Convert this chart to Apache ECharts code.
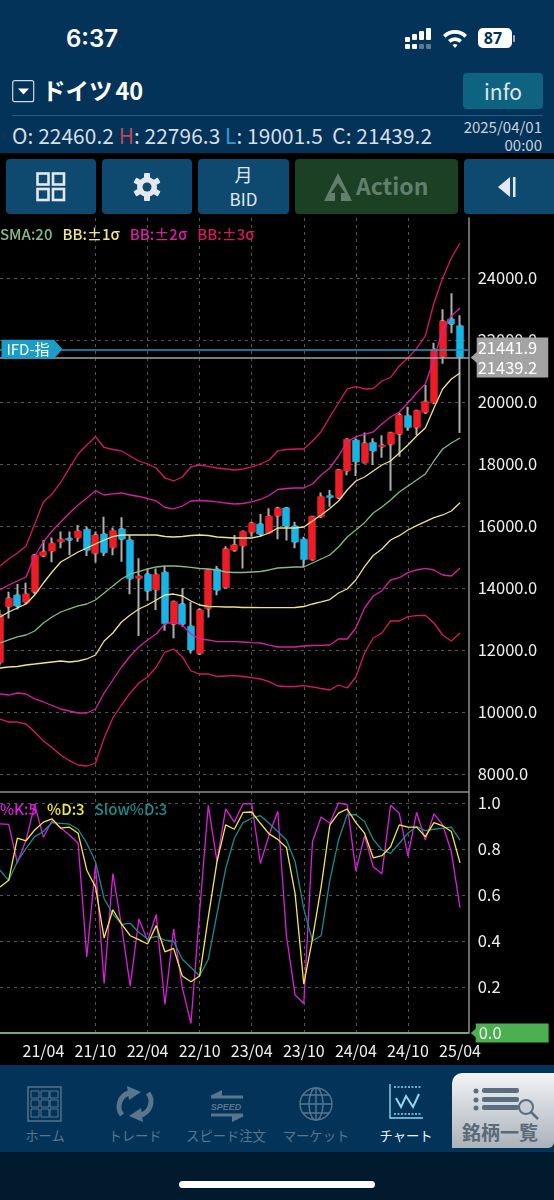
<!DOCTYPE html>
<html>
<head>
<meta charset="utf-8">
<script src="https://cdn.jsdelivr.net/npm/echarts@6/dist/echarts.min.js"></script>
<style>
  html, body { margin: 0; padding: 0; background: #000; }
  body { width: 554px; height: 1200px; overflow: hidden; position: relative;
    font-family: "Noto Sans CJK JP", "Noto Sans", sans-serif; color: #fff; }
  .abs { position: absolute; white-space: nowrap; line-height: 1; }
  .btn { position: absolute; top: 159px; height: 55px; background: #0e4a70; border-radius: 4px; }
  #chart { position: absolute; left: 0; top: 0; width: 554px; height: 1200px; }
  .nav { position: absolute; top: 1129px; font-size: 13.3px; line-height: 1; color: #58768c; transform: translateX(-50%); white-space: nowrap; }
</style>
</head>
<body>
<!-- header -->
<div class="abs" style="left:0;top:0;width:554px;height:153px;background:#04335a"></div>
<div class="abs" style="left:66px;top:24px;font:600 24px 'Inter','Noto Sans',sans-serif">6:37</div>
<svg class="abs" style="left:404px;top:26px" width="112" height="24">
  <g fill="#fff">
    <rect x="1" y="11" width="5" height="5" rx="1"/><rect x="1" y="18" width="5" height="5" rx="1"/>
    <rect x="8" y="8" width="5" height="6" rx="1"/><rect x="8" y="18" width="5" height="5" rx="1"/>
    <rect x="15" y="5" width="5" height="9" rx="1"/><rect x="22" y="2" width="5" height="12" rx="1"/>
    <rect x="15" y="18" width="5" height="5" rx="1" opacity=".35"/><rect x="22" y="18" width="5" height="5" rx="1" opacity=".35"/>
    <path d="M39 9 a17 17 0 0 1 24 0 l-2.5 2.8 a13 13 0 0 0 -19 0z"/>
    <path d="M44 14 a10 10 0 0 1 14 0 l-2.6 2.8 a6 6 0 0 0 -8.8 0z"/>
    <path d="M48.5 19 a4 4 0 0 1 5 0 l-2.5 3z"/>
    <rect x="74" y="2" width="34" height="20" rx="5"/>
    <rect x="109" y="9" width="2" height="7" rx="1" opacity=".6"/>
  </g>
  <text x="89" y="18" font-size="16" font-weight="700" text-anchor="middle" fill="#04335a" font-family="Noto Sans">87</text>
</svg>
<svg class="abs" style="left:12px;top:80px" width="23" height="23">
  <rect x="0.7" y="0.7" width="21" height="21" rx="2" fill="none" stroke="#cfd8e0" stroke-width="1.2"/>
  <path d="M6 8.5 H17 L11.5 14.5Z" fill="#fff"/>
</svg>
<div class="abs" style="left:42px;top:79px;font-size:23.5px;font-weight:700">ドイツ<span style="margin-left:3px">40</span></div>
<div class="abs" style="left:463px;top:73px;width:80px;height:36px;background:#0e6480;border-radius:4px;text-align:center;font-size:21px;line-height:36px;color:#dfe6ea">info</div>
<div class="abs" style="left:12px;top:115px;width:531px;height:1px;background:#2a5a80"></div>
<div class="abs" style="left:12px;top:125px;font-size:20.8px;color:#d6dfe6;letter-spacing:.1px">O: 22460.2 <span style="color:#c0474e">H</span>: 22796.3 <span style="color:#2a9fd6">L</span>: 19001.5&nbsp; C: 21439.2</div>
<div class="abs" style="right:12px;top:119px;font-size:15px;color:#c8d2da">2025/04/01</div>
<div class="abs" style="right:12px;top:137px;font-size:15px;color:#c8d2da">00:00</div>

<!-- toolbar -->
<div class="btn" style="left:6px;width:90px"></div>
<div class="btn" style="left:102px;width:90px"></div>
<div class="btn" style="left:198px;width:91px"></div>
<div class="btn" style="left:295px;width:163px;background:#1b4024"></div>
<div class="btn" style="left:464px;width:94px"></div>
<svg class="abs" style="left:36px;top:172px" width="30" height="30" fill="none" stroke="#e4e8ec" stroke-width="2.6">
  <rect x="1.5" y="1.5" width="11" height="11"/><rect x="17" y="1.5" width="11" height="11"/>
  <rect x="1.5" y="17" width="11" height="11"/><rect x="17" y="17" width="11" height="11"/>
</svg>
<svg class="abs" style="left:132px;top:172px" width="30" height="30">
  <g fill="#e4e8ec"><circle cx="15" cy="15" r="10"/>
    <rect x="12" y="1" width="6" height="6" rx="1"/><rect x="12" y="23" width="6" height="6" rx="1"/>
    <rect x="12" y="1" width="6" height="6" rx="1" transform="rotate(60 15 15)"/><rect x="12" y="23" width="6" height="6" rx="1" transform="rotate(60 15 15)"/>
    <rect x="12" y="1" width="6" height="6" rx="1" transform="rotate(120 15 15)"/><rect x="12" y="23" width="6" height="6" rx="1" transform="rotate(120 15 15)"/>
  </g><circle cx="15" cy="15" r="4.5" fill="#0e4a70"/>
</svg>
<div class="abs" style="left:198px;width:91px;top:165px;text-align:center;font-size:18px;color:#e4e8ec">月</div>
<div class="abs" style="left:198px;width:91px;top:190px;text-align:center;font-size:17px;color:#e4e8ec">BID</div>
<svg class="abs" style="left:324px;top:172px" width="30" height="30"><path d="M14 1 L28 29 H17 V21 H21 L14 11 L7 21 H11 V29 H0Z" fill="#617f6c"/></svg>
<div class="abs" style="left:356px;top:174px;font-size:23px;font-weight:700;color:#617f6c">Action</div>
<svg class="abs" style="left:497px;top:176px" width="22" height="24"><path d="M1 11 L13 1 V21Z" fill="#e4e8ec"/><rect x="16" y="1" width="2.5" height="20" fill="#e4e8ec"/></svg>

<!-- footer -->
<div class="abs" style="left:0;top:1065px;width:554px;height:87px;background:#04335a"></div>
<div class="abs" style="left:0;top:1152px;width:554px;height:48px;background:#021a2e"></div>
<div class="abs" style="left:179px;top:1181px;width:196px;height:7px;background:#fff;border-radius:4px"></div>
<svg class="abs" style="left:0;top:1075px" width="450" height="56" fill="none" stroke="#58768c" stroke-width="1.4">
  <rect x="28" y="12" width="33" height="34"/>
  <path d="M31 16h8v7h-8zM41 16h8v7h-8zM50 16h8v7h-8zM31 25h8v7h-8zM41 25h8v7h-8zM50 25h8v7h-8zM31 34h8v8h-8zM41 34h8v8h-8zM50 34h8v8h-8z" stroke-width="1"/>
  <path d="M122 40 a14 14 0 0 1 7 -22" stroke-width="5"/><path d="M127 11 L141 17 L129 25Z" fill="#58768c" stroke="none"/>
  <path d="M148 18 a14 14 0 0 1 -7 22" stroke-width="5"/><path d="M143 47 L129 41 L141 33Z" fill="#58768c" stroke="none"/>
  <path d="M211 22 H243 M211 40 H243" stroke-width="3"/><path d="M222 15 L210 21 H222Z M232 47 L244 41 H232Z" fill="#58768c" stroke="none"/>
  <text x="226" y="35" font-size="9" font-weight="700" font-style="italic" text-anchor="middle" fill="#58768c" stroke="none" font-family="Liberation Sans">SPEED</text>
  <circle cx="316" cy="29" r="16"/><ellipse cx="316" cy="29" rx="7" ry="16"/><path d="M300 29H332M316 13V45M303 20H329M303 38H329"/>
  <path d="M390 9 V43 H423" stroke="#8fd8ee"/><path d="M394 12 H421 M394 39 H421" stroke="#8fd8ee" stroke-dasharray="2 1.5"/>
  <path d="M396 23 L401 32 L406 21 L413 32 L419 19" stroke="#8fd8ee" stroke-width="2"/>
</svg>
<div class="nav" style="left:45px">ホーム</div>
<div class="nav" style="left:135px">トレード</div>
<div class="nav" style="left:226px">スピード注文</div>
<div class="nav" style="left:316px">マーケット</div>
<div class="nav" style="left:406px;color:#e8f4fa">チャート</div>
<div class="abs" style="left:452px;top:1073px;width:102px;height:75px;background:linear-gradient(#f2f4f6,#aab2ba);border-radius:10px 0 6px 0"></div>
<svg class="abs" style="left:470px;top:1087px" width="70" height="34" fill="#5a6e80">
  <circle cx="6" cy="4" r="2.5"/><circle cx="6" cy="13" r="2.5"/><circle cx="6" cy="21" r="2.5"/>
  <rect x="12" y="1" width="37" height="5" rx="2"/><rect x="12" y="10" width="37" height="5" rx="2"/><rect x="12" y="18" width="37" height="5" rx="2"/>
  <circle cx="56" cy="20" r="7" fill="#c8ced4" stroke="#5a6e80" stroke-width="2"/><path d="M61 25 L68 32" stroke="#5a6e80" stroke-width="2.5"/>
</svg>
<div class="abs" style="left:462px;top:1122px;font-size:19px;font-weight:700;color:#5a6a78">銘柄一覧</div>

<div id="chart"></div>

<script>
const months = [
  '20/11', '20/12', '21/01', '21/02', '21/03', '21/04', '21/05', '21/06', '21/07', '21/08', '21/09', '21/10',
  '21/11', '21/12', '22/01', '22/02', '22/03', '22/04', '22/05', '22/06', '22/07', '22/08', '22/09', '22/10',
  '22/11', '22/12', '23/01', '23/02', '23/03', '23/04', '23/05', '23/06', '23/07', '23/08', '23/09', '23/10',
  '23/11', '23/12', '24/01', '24/02', '24/03', '24/04', '24/05', '24/06', '24/07', '24/08', '24/09', '24/10',
  '24/11', '24/12', '25/01', '25/02', '25/03', '25/04', '',
];
const opens = [11600, 13400, 13770, 13540, 13880, 15040, 15190, 15490, 15600, 15620, 15890, 15120, 15740, 15300, 15900, 15550, 14310, 14440, 13940, 14510, 12840, 13480, 12770, 11890, 13340, 14610, 14020, 15220, 15360, 15800, 16060, 15780, 16330, 16580, 16000, 15570, 14920, 16300, 16980, 16920, 17780, 18770, 18050, 18690, 18560, 18640, 18970, 19560, 19180, 19670, 19980, 21460, 22670, 22460.2];
const closes = [13130, 13670, 13420, 13810, 15060, 15170, 15440, 15570, 15550, 15840, 15220, 15710, 15140, 15850, 15580, 14300, 14390, 13910, 14440, 12850, 13560, 12840, 12000, 13290, 14580, 13930, 15260, 15390, 15820, 16090, 15740, 16320, 16570, 16000, 15480, 14920, 16300, 16950, 16920, 17810, 18800, 18070, 18670, 18420, 18610, 19010, 19580, 19180, 19720, 20010, 21700, 22610, 22520, 21439.2];
const lows = [11500, 13020, 13310, 13480, 13800, 14990, 14830, 15280, 15060, 15490, 15030, 14820, 15030, 15060, 14850, 13800, 12450, 13590, 13290, 12620, 12380, 12750, 11890, 11840, 13050, 13770, 13980, 15170, 14630, 15650, 15650, 15760, 15570, 15530, 15280, 14670, 14880, 16260, 16620, 16870, 17640, 17610, 18020, 17970, 18200, 17140, 18230, 19070, 18930, 19610, 19930, 21230, 22220, 19001.5];
const highs = [13300, 13880, 14130, 14170, 15100, 15550, 15630, 15820, 15820, 16030, 15980, 15820, 16300, 15950, 16280, 15710, 14960, 14630, 14630, 14710, 13600, 13990, 13560, 13350, 14600, 14710, 15350, 15710, 15830, 16140, 16390, 16570, 16620, 16600, 16140, 15650, 16320, 17080, 17160, 17830, 18830, 18830, 19020, 18830, 18930, 19030, 19650, 19850, 19740, 20550, 21910, 22990, 23510, 22796.3];

const sma20 = [12226, 12323, 12420, 12484, 12613, 12871, 13065, 13226, 13323, 13420, 13484, 13613, 13839, 14065, 14291, 14452, 14532, 14613, 14678, 14710, 14710, 14694, 14662, 14629, 14613, 14581, 14516, 14500, 14500, 14516, 14532, 14581, 14645, 14662, 14678, 14678, 14807, 14936, 15065, 15323, 15645, 15871, 16107, 16420, 16613, 16839, 17097, 17291, 17484, 17678, 18097, 18484, 18678, 18839];
const bbUp1 = [13065, 13226, 13355, 13484, 13774, 14161, 14516, 14839, 15000, 15161, 15290, 15419, 15548, 15655, 15710, 15710, 15710, 15710, 15710, 15661, 15645, 15661, 15694, 15710, 15694, 15645, 15629, 15613, 15613, 15613, 15677, 15774, 15936, 15936, 15936, 15968, 16161, 16355, 16565, 16807, 17161, 17452, 17581, 17774, 17968, 18097, 18355, 18613, 18903, 19162, 19807, 20420, 20742, 20936];
const bbUp2 = [13936, 14097, 14226, 14355, 15032, 15484, 15839, 16129, 16420, 16678, 16904, 17139, 17000, 17033, 17065, 17000, 16952, 16887, 16807, 16597, 16549, 16645, 16807, 16823, 16807, 16775, 16742, 16710, 16726, 16775, 16855, 16984, 17178, 17210, 17226, 17226, 17355, 17646, 17871, 18258, 18710, 18881, 18952, 19033, 19291, 19516, 19678, 19968, 20291, 20581, 21388, 22323, 22774, 23032];
const bbUp3 = [14710, 14936, 15129, 15355, 16065, 16774, 17033, 17404, 17871, 18323, 18613, 18881, 18533, 18468, 18420, 18258, 18097, 18000, 17871, 17549, 17452, 17581, 17904, 17968, 17920, 17871, 17839, 17807, 17839, 17904, 18000, 18129, 18420, 18468, 18484, 18484, 18742, 19042, 19516, 19968, 20420, 20494, 20420, 20436, 20678, 20791, 21162, 21420, 21726, 22129, 23194, 24000, 24645, 25129];
const bbDn1 = [11419, 11452, 11468, 11516, 11548, 11581, 11613, 11645, 11613, 11645, 11710, 11839, 12290, 12548, 12903, 13129, 13323, 13452, 13613, 13774, 13806, 13742, 13581, 13452, 13403, 13397, 13387, 13387, 13371, 13371, 13365, 13365, 13365, 13365, 13371, 13403, 13484, 13549, 13629, 13839, 13968, 14258, 14687, 15049, 15258, 15548, 15687, 15871, 16010, 16139, 16268, 16355, 16484, 16752];
const bbDn2 = [10581, 10548, 10613, 10581, 10420, 10323, 10210, 10097, 10032, 9968, 9968, 10097, 10613, 11032, 11452, 11807, 12097, 12323, 12516, 12839, 12903, 12806, 12516, 12355, 12323, 12268, 12268, 12268, 12258, 12235, 12226, 12161, 12097, 12097, 12097, 12129, 12145, 12152, 12161, 12355, 12355, 12710, 13355, 13742, 13913, 14258, 14332, 14494, 14581, 14636, 14581, 14420, 14387, 14636];
const bbDn3 = [9774, 9677, 9677, 9613, 9355, 9074, 8848, 8613, 8429, 8290, 8258, 8355, 9161, 9806, 10226, 10613, 10936, 11129, 11452, 11935, 12032, 11784, 11323, 11226, 11226, 11145, 11161, 11171, 11145, 11107, 11065, 10978, 10839, 10823, 10823, 10849, 10807, 10758, 10710, 10871, 10774, 11129, 11903, 12387, 12549, 12936, 12936, 13075, 13107, 13120, 12871, 12484, 12290, 12549];

const stochK = [0.909, 0.907, 0.74, 0.839, 0.993, 0.851, 0.924, 0.891, 0.861, 0.825, 0.331, 0.73, 0.215, 0.693, 0.467, 0.204, 0.496, 0.401, 0.515, 0.124, 0.453, 0.197, 0.041, 0.53, 0.99, 0.745, 0.975, 0.917, 0.997, 0.997, 0.737, 0.861, 0.964, 0.423, 0.165, 0.128, 0.832, 0.939, 0.912, 1, 0.993, 0.704, 0.857, 0.723, 0.693, 0.99, 0.956, 0.769, 0.959, 0.839, 0.953, 0.905, 0.788, 0.545];
const stochD = [0.635, 0.664, 0.847, 0.836, 0.883, 0.917, 0.931, 0.891, 0.895, 0.869, 0.708, 0.635, 0.413, 0.536, 0.474, 0.423, 0.406, 0.387, 0.467, 0.353, 0.368, 0.248, 0.223, 0.248, 0.504, 0.745, 0.905, 0.886, 0.959, 0.961, 0.912, 0.866, 0.842, 0.807, 0.606, 0.212, 0.409, 0.635, 0.905, 0.956, 0.974, 0.915, 0.869, 0.762, 0.771, 0.81, 0.905, 0.895, 0.895, 0.854, 0.915, 0.901, 0.876, 0.74];
const slowD = [0.708, 0.664, 0.745, 0.803, 0.854, 0.876, 0.915, 0.912, 0.908, 0.886, 0.825, 0.745, 0.584, 0.518, 0.472, 0.477, 0.438, 0.409, 0.42, 0.404, 0.399, 0.321, 0.285, 0.248, 0.321, 0.518, 0.715, 0.847, 0.915, 0.934, 0.945, 0.912, 0.876, 0.839, 0.745, 0.54, 0.401, 0.423, 0.664, 0.839, 0.949, 0.949, 0.92, 0.842, 0.796, 0.781, 0.825, 0.869, 0.898, 0.88, 0.886, 0.891, 0.895, 0.839];

const ifdLevel = 21700; // drawn height of the order line
const bidLevel = 21439.2;
const tagText = ['21441.9', '21439.2'];

const FONT = '"Noto Sans CJK JP", "Noto Sans", sans-serif';
const RED = '#ee1c25';
const BLUE = '#18b4e6';
const WICK = '#aeaeae';
const TEAL = '#1a9cc4';
const GREY = '#a3a3a3';
const FRAME = '#8c8c8c';
const GREEN = '#4caf50';
const C_SMA = '#86b98a';
const C_BB1 = '#eee48a';
const C_BB2 = '#d81fa0';
const C_BB3 = '#d81763';
const C_K = '#dc1fdc';
const C_D = '#f4ec3a';
const C_S = '#1a8c8c';

const gridLine = { show: true, showMinLine: false, showMaxLine: false, lineStyle: { color: '#565656', type: [3, 4], width: 1 } };
const noLine = { show: false };
const monthTick = (index) => index % 6 === 5;

const lineSeries = (name, data, color, gridIndex = 0) => ({
  name,
  type: 'line',
  data,
  xAxisIndex: gridIndex,
  yAxisIndex: gridIndex,
  showSymbol: false,
  silent: true,
  z: 5,
  lineStyle: { color, width: 1.3 },
  itemStyle: { color },
});

const legendItem = (name, color) => ({ name, icon: 'none', textStyle: { color } });

const legendBase = {
  left: -5,
  padding: 0,
  itemWidth: 0,
  itemGap: 5,
  selectedMode: false,
  textStyle: { fontSize: 15, fontFamily: FONT, fontWeight: 500 },
};

const option = {
  animation: false,
  backgroundColor: 'transparent',
  textStyle: { fontFamily: FONT },
  legend: [
    {
      ...legendBase,
      top: 227,
      data: [legendItem('SMA:20', C_SMA), legendItem('BB:±1σ', C_BB1), legendItem('BB:±2σ', C_BB2), legendItem('BB:±3σ', C_BB3)],
    },
    {
      ...legendBase,
      top: 802,
      data: [legendItem('%K:5', C_K), legendItem('%D:3', C_D), legendItem('Slow%D:3', C_S)],
    },
  ],
  // price grid runs on past the divider so the ticks can start on a round 6000; nothing is drawn down there
  grid: [
    { left: -2.9, top: 216, width: 471.6, height: 620 },
    { left: -2.9, top: 792, width: 471.6, height: 241 },
    { left: -2.9, top: 218, width: 471.6, height: 815 },
  ],
  xAxis: [
    {
      type: 'category',
      gridIndex: 0,
      data: months,
      boundaryGap: false,
      axisLine: noLine,
      axisTick: noLine,
      axisLabel: noLine,
      splitLine: noLine,
    },
    {
      type: 'category',
      gridIndex: 1,
      data: months,
      boundaryGap: false,
      axisLine: { show: true, lineStyle: { color: FRAME, width: 1.5 } },
      axisTick: noLine,
      axisLabel: { color: '#f0f0f0', fontSize: 16, margin: 10, interval: monthTick, hideOverlap: false, fontFamily: FONT },
      splitLine: noLine,
    },
    // month guides and the right frame span both panes
    {
      type: 'category',
      gridIndex: 2,
      data: months,
      boundaryGap: false,
      axisLine: noLine,
      axisTick: noLine,
      axisLabel: noLine,
      splitLine: { ...gridLine, interval: monthTick },
    },
    // divider between the panes
    {
      type: 'category',
      gridIndex: 1,
      data: months,
      boundaryGap: false,
      position: 'top',
      axisLine: { show: true, lineStyle: { color: FRAME, width: 1.5 } },
      axisTick: noLine,
      axisLabel: noLine,
      splitLine: noLine,
    },
  ],
  yAxis: [
    {
      type: 'value',
      gridIndex: 0,
      position: 'right',
      min: 6000,
      max: 26000,
      interval: 2000,
      axisLine: noLine,
      axisTick: noLine,
      axisLabel: {
        color: '#f0f0f0',
        fontSize: 16.5,
        margin: 9,
        showMinLabel: false,
        showMaxLabel: false,
        fontFamily: FONT,
        formatter: (value) => value.toFixed(1),
      },
      splitLine: gridLine,
    },
    {
      type: 'value',
      gridIndex: 1,
      position: 'right',
      min: 0,
      max: 1.048,
      interval: 0.2,
      axisLine: noLine,
      axisTick: noLine,
      axisLabel: {
        color: '#f0f0f0',
        fontSize: 16.5,
        margin: 9,
        showMaxLabel: false,
        fontFamily: FONT,
        formatter: (value) => (value === 0 ? '' : value.toFixed(1)),
      },
      splitLine: gridLine,
    },
    {
      type: 'value',
      gridIndex: 2,
      position: 'right',
      min: 0,
      max: 1,
      axisLine: { show: true, lineStyle: { color: FRAME, width: 1.5 } },
      axisTick: noLine,
      axisLabel: noLine,
      splitLine: noLine,
    },
  ],
  series: [
    // wicks sit under the bodies since they are a different colour
    {
      type: 'candlestick',
      barWidth: 2,
      silent: true,
      z: 2,
      data: opens.map((o, i) => [o, closes[i], lows[i], highs[i]]),
      itemStyle: { color: WICK, color0: WICK, borderColor: WICK, borderColor0: WICK, borderWidth: 2 },
    },
    {
      type: 'candlestick',
      barWidth: 7.5,
      silent: true,
      z: 3,
      data: opens.map((o, i) => [o, closes[i], Math.min(o, closes[i]), Math.max(o, closes[i])]),
      itemStyle: { color: RED, color0: BLUE, borderColor: RED, borderColor0: BLUE, borderWidth: 0.5 },
      markLine: {
        silent: true,
        symbol: 'none',
        animation: false,
        z: 6,
        data: [
          { yAxis: ifdLevel, lineStyle: { color: TEAL, type: 'solid', width: 1.6 }, label: { show: false } },
          {
            yAxis: bidLevel,
            lineStyle: { color: GREY, type: 'solid', width: 1.6 },
            label: {
              show: true,
              position: 'end',
              distance: 8,
              formatter: tagText.join('\n'),
              color: '#fff',
              fontSize: 16.5,
              lineHeight: 20,
              backgroundColor: GREY,
              padding: [0, 11, 0, 1],
              fontFamily: FONT,
            },
          },
        ],
      },
      markPoint: {
        silent: true,
        animation: false,
        z: 7,
        data: [
          {
            coord: [0, ifdLevel],
            symbol: 'path://M0 0H50L58 9.5L50 19H0Z',
            symbolSize: [61, 19],
            symbolOffset: [32, 0],
            itemStyle: { color: TEAL },
            label: { show: true, position: 'inside', formatter: 'IFD-指', color: '#fff', fontSize: 15, fontFamily: FONT, offset: [-4, 0] },
          },
          {
            coord: [54, bidLevel],
            symbol: 'triangle',
            symbolRotate: 90,
            symbolSize: [14, 8],
            symbolOffset: [6, 0],
            itemStyle: { color: GREY },
            label: { show: false },
          },
        ],
      },
    },
    lineSeries('SMA:20', sma20, C_SMA),
    lineSeries('BB:±1σ', bbUp1, C_BB1),
    lineSeries('BB:±1σ', bbDn1, C_BB1),
    lineSeries('BB:±2σ', bbUp2, C_BB2),
    lineSeries('BB:±2σ', bbDn2, C_BB2),
    lineSeries('BB:±3σ', bbUp3, C_BB3),
    lineSeries('BB:±3σ', bbDn3, C_BB3),
    lineSeries('%K:5', stochK, C_K, 1),
    lineSeries('Slow%D:3', slowD, C_S, 1),
    {
      ...lineSeries('%D:3', stochD, C_D, 1),
      markLine: {
        silent: true,
        symbol: 'none',
        animation: false,
        data: [
          {
            yAxis: 0,
            lineStyle: { color: '#7fb98a', type: 'solid', width: 1.6 },
            label: {
              show: true,
              position: 'end',
              distance: 7,
              formatter: '0.0',
              color: '#f0f0f0',
              fontSize: 16.5,
              backgroundColor: GREEN,
              padding: [0, 47, 0, 3],
              lineHeight: 19,
              fontFamily: FONT,
            },
          },
        ],
      },
      markPoint: {
        silent: true,
        animation: false,
        data: [
          {
            coord: [54, 0],
            symbol: 'triangle',
            symbolRotate: 90,
            symbolSize: [10, 6],
            symbolOffset: [5, 0],
            itemStyle: { color: GREEN },
            label: { show: false },
          },
        ],
      },
    },
  ],
};

const chart = echarts.init(document.getElementById('chart'), null, { renderer: 'canvas' });
chart.setOption(option);
</script>
</body>
</html>
